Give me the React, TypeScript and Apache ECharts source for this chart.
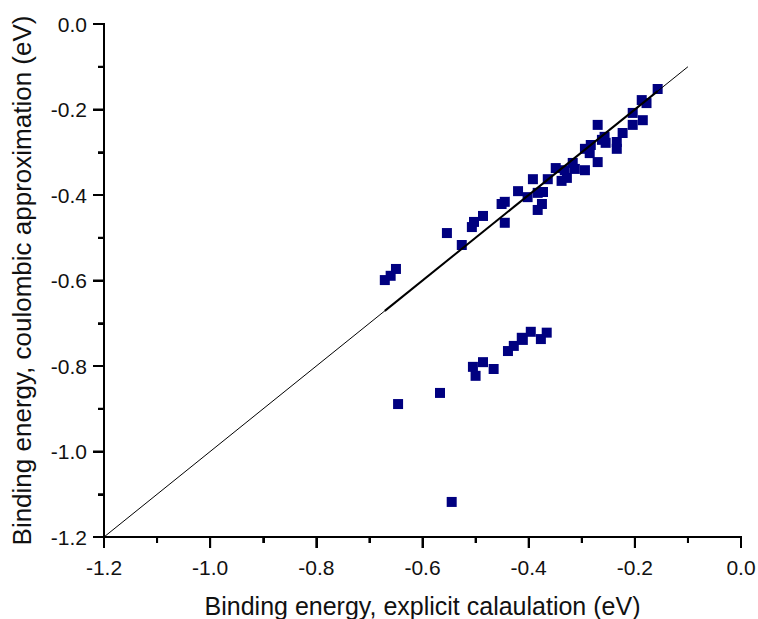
import React, { useEffect, useRef } from "react";
import * as echarts from "echarts";

const xTicks = [-1.2, -1.0, -0.8, -0.6, -0.4, -0.2, 0.0];
const yTicks = [-1.2, -1.0, -0.8, -0.6, -0.4, -0.2, 0.0];

// explicit calculation (x) values, upper cluster
const upperX = [
  -0.671, -0.66, -0.65, -0.554, -0.526, -0.507, -0.503, -0.486, -0.451, -0.445,
  -0.445, -0.42, -0.402, -0.392, -0.383, -0.375, -0.373, -0.383, -0.364, -0.349,
  -0.338, -0.328, -0.332, -0.317, -0.313, -0.294, -0.294, -0.285, -0.27, -0.283,
  -0.27, -0.262, -0.255, -0.257, -0.234, -0.234, -0.223, -0.204, -0.204, -0.185,
  -0.187, -0.178, -0.157,
];
// coulombic approximation (y) values, upper cluster
const upperY = [
  -0.599, -0.589, -0.573, -0.489, -0.517, -0.475, -0.463, -0.449, -0.421, -0.416,
  -0.465, -0.391, -0.405, -0.363, -0.435, -0.421, -0.393, -0.395, -0.363, -0.337,
  -0.367, -0.36, -0.342, -0.325, -0.339, -0.342, -0.292, -0.302, -0.323, -0.283,
  -0.236, -0.271, -0.278, -0.264, -0.276, -0.292, -0.255, -0.208, -0.236, -0.225,
  -0.178, -0.185, -0.152,
];
// lower cluster
const lowerX = [
  -0.646, -0.567, -0.505, -0.5, -0.486, -0.466, -0.439, -0.428, -0.413, -0.411,
  -0.396, -0.377, -0.366, -0.545,
];
const lowerY = [
  -0.889, -0.863, -0.802, -0.823, -0.791, -0.807, -0.765, -0.753, -0.734, -0.739,
  -0.72, -0.737, -0.722, -1.118,
];
// reference line y = x
const refLine = [-1.2, -0.1];
const fitLine = [-0.671, -0.157];

const FONT = "Liberation Sans, Arial, sans-serif";

function labelAxis(name: string, ticks: number[], nameGap: number, labelMargin: number, nameSize: number) {
  return {
    type: "value",
    min: ticks[0],
    max: ticks[ticks.length - 1],
    interval: 0.2,
    name,
    nameLocation: "middle",
    nameGap,
    nameTextStyle: { fontFamily: FONT, fontSize: nameSize, color: "#111" },
    splitLine: { show: false },
    axisLine: { show: true, onZero: false, lineStyle: { color: "#000", width: 2 } },
    axisTick: { show: true, length: 11, lineStyle: { color: "#000", width: 2 } },
    minorTick: { show: true, splitNumber: 2, length: 6, lineStyle: { color: "#000", width: 2 } },
    axisLabel: {
      show: true,
      margin: labelMargin,
      fontFamily: FONT,
      fontSize: 21,
      color: "#111",
      formatter: (v: number) => v.toFixed(1),
    },
  };
}

export default function App() {
  const ref = useRef<HTMLDivElement>(null);
  useEffect(() => {
    if (!ref.current) return;
    const chart = echarts.init(ref.current, undefined, { renderer: "svg" });
    const pts = [
      ...upperX.map((x, i) => [x, upperY[i]]),
      ...lowerX.map((x, i) => [x, lowerY[i]]),
    ];
    const xMin = xTicks[0];
    const xMax = xTicks[xTicks.length - 1];
    const yMin = yTicks[0];
    const yMax = yTicks[yTicks.length - 1];
    const xMinor = xTicks.slice(1).map((t, i) => (t + xTicks[i]) / 2);
    const yMinor = yTicks.slice(1).map((t, i) => (t + yTicks[i]) / 2);
    const tickBase = {
      type: "scatter",
      symbol: "rect",
      silent: true,
      clip: false,
      itemStyle: { color: "#000", opacity: 1 },
      z: 5,
    };
    chart.setOption({
      animation: false,
      grid: { left: 104, right: 17, top: 24, bottom: 82, containLabel: false, outerBoundsMode: "none" },
      xAxis: labelAxis("Binding energy, explicit calaulation (eV)", xTicks, 56, 20, 25),
      yAxis: labelAxis("Binding energy, coulombic approximation (eV)", yTicks, 69, 17, 26),
      series: [
        {
          type: "scatter",
          symbol: "rect",
          symbolSize: 10,
          itemStyle: { color: "#000080", opacity: 1 },
          data: pts,
        },
        {
          type: "line",
          data: refLine.map((v) => [v, v]),
          symbol: "none",
          lineStyle: { color: "#000", width: 1 },
        },
        {
          type: "line",
          data: fitLine.map((v) => [v, v]),
          symbol: "none",
          lineStyle: { color: "#000", width: 2 },
        },
        // axis lines
        {
          type: "line",
          data: [[xMin, yMin], [xMax, yMin]],
          symbol: "none",
          clip: false,
          silent: true,
          lineStyle: { color: "#000", width: 2, cap: "square" },
          z: 5,
        },
        {
          type: "line",
          data: [[xMin, yMin], [xMin, yMax]],
          symbol: "none",
          clip: false,
          silent: true,
          lineStyle: { color: "#000", width: 2, cap: "square" },
          z: 5,
        },
        // x ticks
        { ...tickBase, symbolSize: [2, 11], symbolOffset: [0, 5.5], data: xTicks.map((t) => [t, yMin]) },
        { ...tickBase, symbolSize: [2, 6], symbolOffset: [0, 3], data: xMinor.map((t) => [t, yMin]) },
        // y ticks
        { ...tickBase, symbolSize: [11, 2], symbolOffset: [-5.5, 0], data: yTicks.map((t) => [xMin, t]) },
        { ...tickBase, symbolSize: [6, 2], symbolOffset: [-3, 0], data: yMinor.map((t) => [xMin, t]) },
      ],
    });
    return () => chart.dispose();
  }, []);
  return (
    <div
      ref={ref}
      style={{ position: "absolute", left: 0, top: 0, width: 758, height: 619 }}
    />
  );
}
